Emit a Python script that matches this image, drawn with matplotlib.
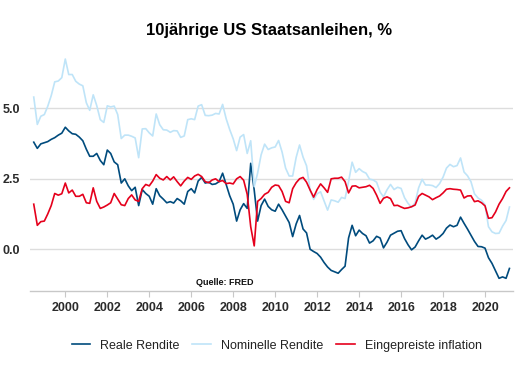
import pandas as pd
import matplotlib
matplotlib.use('Agg')
import matplotlib.pyplot as plt
import matplotlib.dates as mdates

dates = pd.date_range('1998-07-01', '2021-03-01', freq='2MS')

real_yield = [
    3.80, 3.58, 3.74,
    3.78, 3.82, 3.90, 3.96, 4.05, 4.12,
    4.33, 4.20, 4.10, 4.08, 3.98, 3.85,
    3.55, 3.30, 3.30, 3.40, 3.15, 3.00,
    3.52, 3.40, 3.10, 3.00, 2.35, 2.50,
    2.25, 2.08, 2.20, 1.55, 2.12, 1.98,
    1.88, 1.60, 2.15, 1.90, 1.78, 1.65,
    1.69, 1.64, 1.80, 1.72, 1.60, 2.05,
    2.15, 2.00, 2.42, 2.55, 2.35, 2.38,
    2.30, 2.32, 2.40, 2.70, 2.30, 1.90,
    1.60, 1.00, 1.40, 1.62, 1.45, 3.05,
    2.10, 1.00, 1.55, 1.78, 1.52, 1.40,
    1.35, 1.60, 1.40, 1.18, 0.95, 0.45,
    0.90, 1.20, 0.72, 0.58, 0.00, -0.08,
    -0.15, -0.28, -0.47, -0.63, -0.75, -0.80,
    -0.85, -0.72, -0.60, 0.40, 0.85, 0.48,
    0.68, 0.56, 0.48, 0.22, 0.30, 0.46,
    0.40, 0.05, 0.25, 0.50, 0.57, 0.64,
    0.66, 0.38, 0.16, -0.02, 0.08, 0.30,
    0.50, 0.36, 0.42, 0.50, 0.36, 0.44,
    0.56, 0.75, 0.86, 0.80, 0.85, 1.14,
    0.92, 0.72, 0.50, 0.28, 0.10, 0.09,
    0.04, -0.30, -0.50, -0.76, -1.03, -0.98,
    -1.03, -0.68,
]

nominal_yield = [
    5.40, 4.43, 4.72,
    4.78, 5.07, 5.45, 5.94, 5.97, 6.09,
    6.75, 6.20, 6.20, 5.96, 5.86, 5.80,
    5.20, 4.93, 5.48, 5.10, 4.60, 4.50,
    5.09, 5.05, 5.08, 4.78, 3.93, 4.05,
    4.05, 4.01, 3.95, 3.25, 4.27, 4.28,
    4.13, 4.02, 4.80, 4.42, 4.24, 4.23,
    4.15, 4.21, 4.20, 3.97, 4.02, 4.60,
    4.63, 4.60, 5.08, 5.13, 4.75, 4.74,
    4.76, 4.82, 4.80, 5.14, 4.63, 4.25,
    3.92, 3.50, 3.98, 4.07, 3.40, 3.85,
    2.22, 2.70, 3.35, 3.73, 3.54, 3.60,
    3.63, 3.86, 3.45, 2.88, 2.60, 2.60,
    3.26, 3.70, 3.27, 2.96, 2.10, 1.77,
    1.97, 2.04, 1.71, 1.39, 1.75, 1.72,
    1.67, 1.84, 1.80, 2.40, 3.09, 2.73,
    2.86, 2.76, 2.70, 2.49, 2.46, 2.38,
    2.03, 1.86, 2.11, 2.30, 2.12, 2.20,
    2.16, 1.83, 1.63, 1.49, 1.65, 2.18,
    2.48, 2.28, 2.28, 2.26, 2.19, 2.33,
    2.56, 2.88, 3.01, 2.93, 2.97, 3.24,
    2.74, 2.61, 2.40, 1.97, 1.82, 1.74,
    1.58, 0.80, 0.62, 0.56, 0.57, 0.82,
    1.02, 1.50,
]

breakeven = [
    1.60, 0.85, 0.98,
    1.00, 1.25, 1.55, 1.98, 1.92, 1.97,
    2.35, 2.00, 2.10, 1.88, 1.88, 1.95,
    1.65, 1.63, 2.18, 1.70, 1.45, 1.50,
    1.57, 1.65, 1.98, 1.78, 1.58, 1.55,
    1.80, 1.93, 1.75, 1.70, 2.15, 2.30,
    2.25, 2.42, 2.65, 2.52, 2.46, 2.58,
    2.46, 2.57, 2.40, 2.25, 2.42, 2.55,
    2.48, 2.60, 2.66, 2.58, 2.40, 2.36,
    2.46, 2.50, 2.40, 2.44, 2.33, 2.35,
    2.32, 2.50, 2.58, 2.45, 1.95, 0.80,
    0.12, 1.70, 1.80, 1.95, 2.02, 2.20,
    2.28, 2.26, 2.05, 1.70, 1.65, 2.15,
    2.36, 2.50, 2.55, 2.38, 2.10, 1.85,
    2.12, 2.32, 2.18, 2.02, 2.50, 2.52,
    2.52, 2.56, 2.40, 2.00, 2.24, 2.25,
    2.18, 2.20, 2.22, 2.27, 2.16, 1.92,
    1.63, 1.81, 1.86, 1.80, 1.55, 1.56,
    1.50, 1.45, 1.47, 1.51, 1.57, 1.88,
    1.98, 1.92, 1.86, 1.76, 1.83, 1.89,
    2.00, 2.13, 2.15, 2.13, 2.12, 2.10,
    1.82, 1.89, 1.90, 1.69, 1.72, 1.65,
    1.54, 1.10, 1.12, 1.32, 1.60, 1.80,
    2.05, 2.18,
]

labels = ['Reale Rendite', 'Nominelle Rendite', 'Eingepreiste inflation']
colors = ['#004b7d', '#bfe4f8', '#e5001c']
y_ticks = [0.0, 2.5, 5.0]

plt.rcParams['font.family'] = ['Liberation Sans', 'DejaVu Sans']

fig = plt.figure(figsize=(5.22, 3.70), dpi=100)
ax = fig.add_axes([0.0575, 0.2143, 0.9255, 0.6452])

for series, label, color in zip([real_yield, nominal_yield, breakeven], labels, colors):
    ax.plot(dates, series, color=color, lw=1.2, label=label)

ax.set_xlim(pd.Timestamp('1998-04-27'), pd.Timestamp('2021-05-04'))
ax.set_ylim(-1.47, 7.0)

ax.xaxis.set_major_locator(mdates.YearLocator(2))
ax.xaxis.set_major_formatter(mdates.DateFormatter('%Y'))
ax.set_yticks(y_ticks)
ax.set_yticklabels([f'{v:.1f}' for v in y_ticks])

ax.grid(axis='y', color='#dddddd', lw=1.0)
ax.set_axisbelow(True)
for side in ['top', 'right', 'left']:
    ax.spines[side].set_visible(False)
ax.spines['bottom'].set_color('#c8c8c8')
ax.spines['bottom'].set_linewidth(1.0)

ax.tick_params(axis='x', length=4, color='#c8c8c8', pad=4,
               labelsize=9, labelcolor='#2b2b2b')
ax.tick_params(axis='y', length=0, pad=7, labelsize=9, labelcolor='#2b2b2b')
for lbl in ax.get_xticklabels() + ax.get_yticklabels():
    lbl.set_fontweight('bold')

ax.text(0.404, 0.036, 'Quelle: FRED', transform=ax.transAxes, ha='center',
        va='center', fontsize=6.5, fontweight='bold', color='#111111')

fig.text(0.515, 0.918, '10jährige US Staatsanleihen, %', ha='center',
         va='center', fontsize=12, fontweight='bold', color='#000000')

fig.legend(loc='center', bbox_to_anchor=(0.53, 0.066), ncol=3, frameon=False,
           fontsize=9, handlelength=1.5, handletextpad=0.8,
           columnspacing=1.0, labelcolor='#222222')

fig.savefig('out.png', dpi=100)
